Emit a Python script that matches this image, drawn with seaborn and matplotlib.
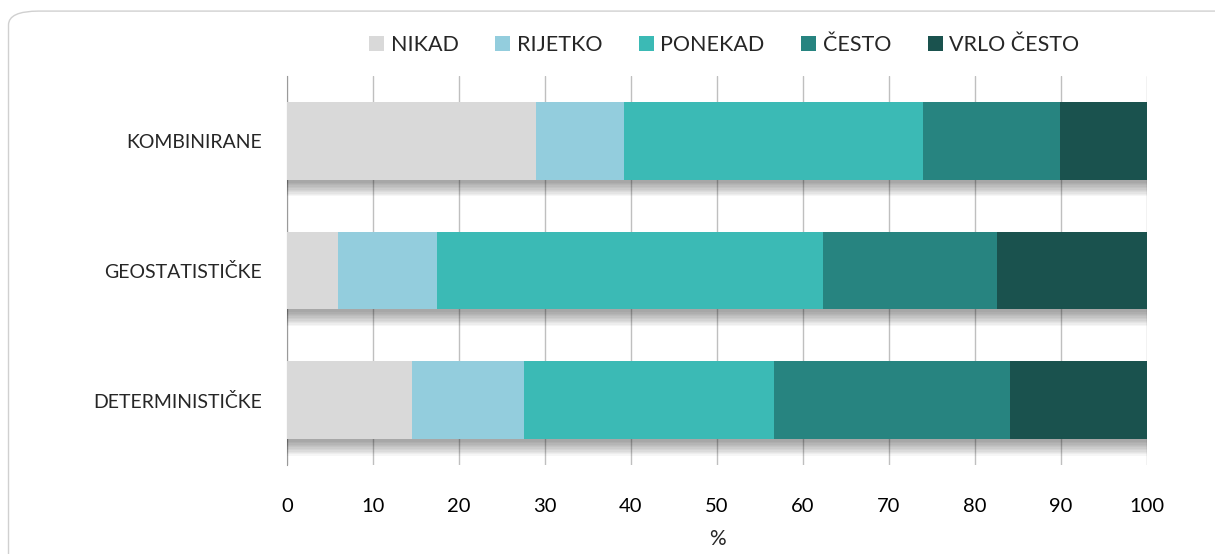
import matplotlib
matplotlib.use("Agg")
import matplotlib.pyplot as plt
import matplotlib.patheffects as pe
from matplotlib.patches import FancyBboxPatch, Patch
import numpy as np
import pandas as pd
import seaborn as sns

# data (% of answers)
categories = ["KOMBINIRANE", "GEOSTATISTIČKE", "DETERMINISTIČKE"]
levels = ["NIKAD", "RIJETKO", "PONEKAD", "ČESTO", "VRLO ČESTO"]
nikad = [29.0, 5.9, 14.5]
rijetko = [10.2, 11.6, 13.1]
ponekad = [34.7, 44.8, 29.0]
cesto = [16.0, 20.3, 27.5]
vrlo_cesto = [10.1, 17.4, 15.9]
colors = ["#D9D9D9", "#93CDDD", "#3BBAB5", "#278480", "#1A524E"]

sns.set_style("white")
plt.rcParams["font.family"] = ["Lato", "DejaVu Sans"]

series = [nikad, rijetko, ponekad, cesto, vrlo_cesto]
cum = np.cumsum(np.array(series), axis=0)

fig = plt.figure(figsize=(12.15, 5.54), dpi=100)
ax = fig.add_axes([0.2362, 0.1606, 0.7078, 0.702])

# stacked bars: draw cumulative totals from the longest to the shortest
for i in range(len(levels) - 1, -1, -1):
    df = pd.DataFrame({"cat": categories, "val": cum[i]})
    sns.barplot(data=df, y="cat", x="val", color=colors[i], saturation=1,
                width=0.6, ax=ax, zorder=3)

# soft shadow under the full bars
shadow = [pe.SimplePatchShadow(offset=(0, -k), shadow_rgbFace="black", alpha=0.035)
          for k in range(2, 13)] + [pe.Normal()]
for p in ax.patches[:len(categories)]:
    p.set_path_effects(shadow)
for p in ax.patches:
    p.set_linewidth(0)

ax.set_xlim(0, 100)
ax.set_ylim(2.5, -0.5)
ax.set_xticks(range(0, 101, 10))
ax.xaxis.grid(True, color="#BFBFBF", linewidth=1)
ax.set_axisbelow(True)
for s in ["top", "right", "bottom"]:
    ax.spines[s].set_visible(False)
ax.spines["left"].set_color("#9A9A9A")
ax.tick_params(axis="x", length=0, labelsize=14.5, pad=24, colors="#000000")
ax.tick_params(axis="y", length=0, labelsize=14, pad=18)
ax.set_ylabel("")
ax.set_xlabel("%", fontsize=15, labelpad=10)

handles = [Patch(facecolor=c, edgecolor="none") for c in colors]
fig.legend(handles, levels, loc="center", bbox_to_anchor=(0.596, 0.918), ncol=5,
           frameon=False, fontsize=15.5, handlelength=0.7, handleheight=0.7,
           handletextpad=0.3, columnspacing=1.7)

fig.patches.append(FancyBboxPatch((0.007, -0.05), 1.05, 1.03,
                                  boxstyle="round,pad=0,rounding_size=0.025",
                                  transform=fig.transFigure, fill=False,
                                  edgecolor="#D0D0D0", linewidth=1))

fig.savefig("out.png", dpi=100)
